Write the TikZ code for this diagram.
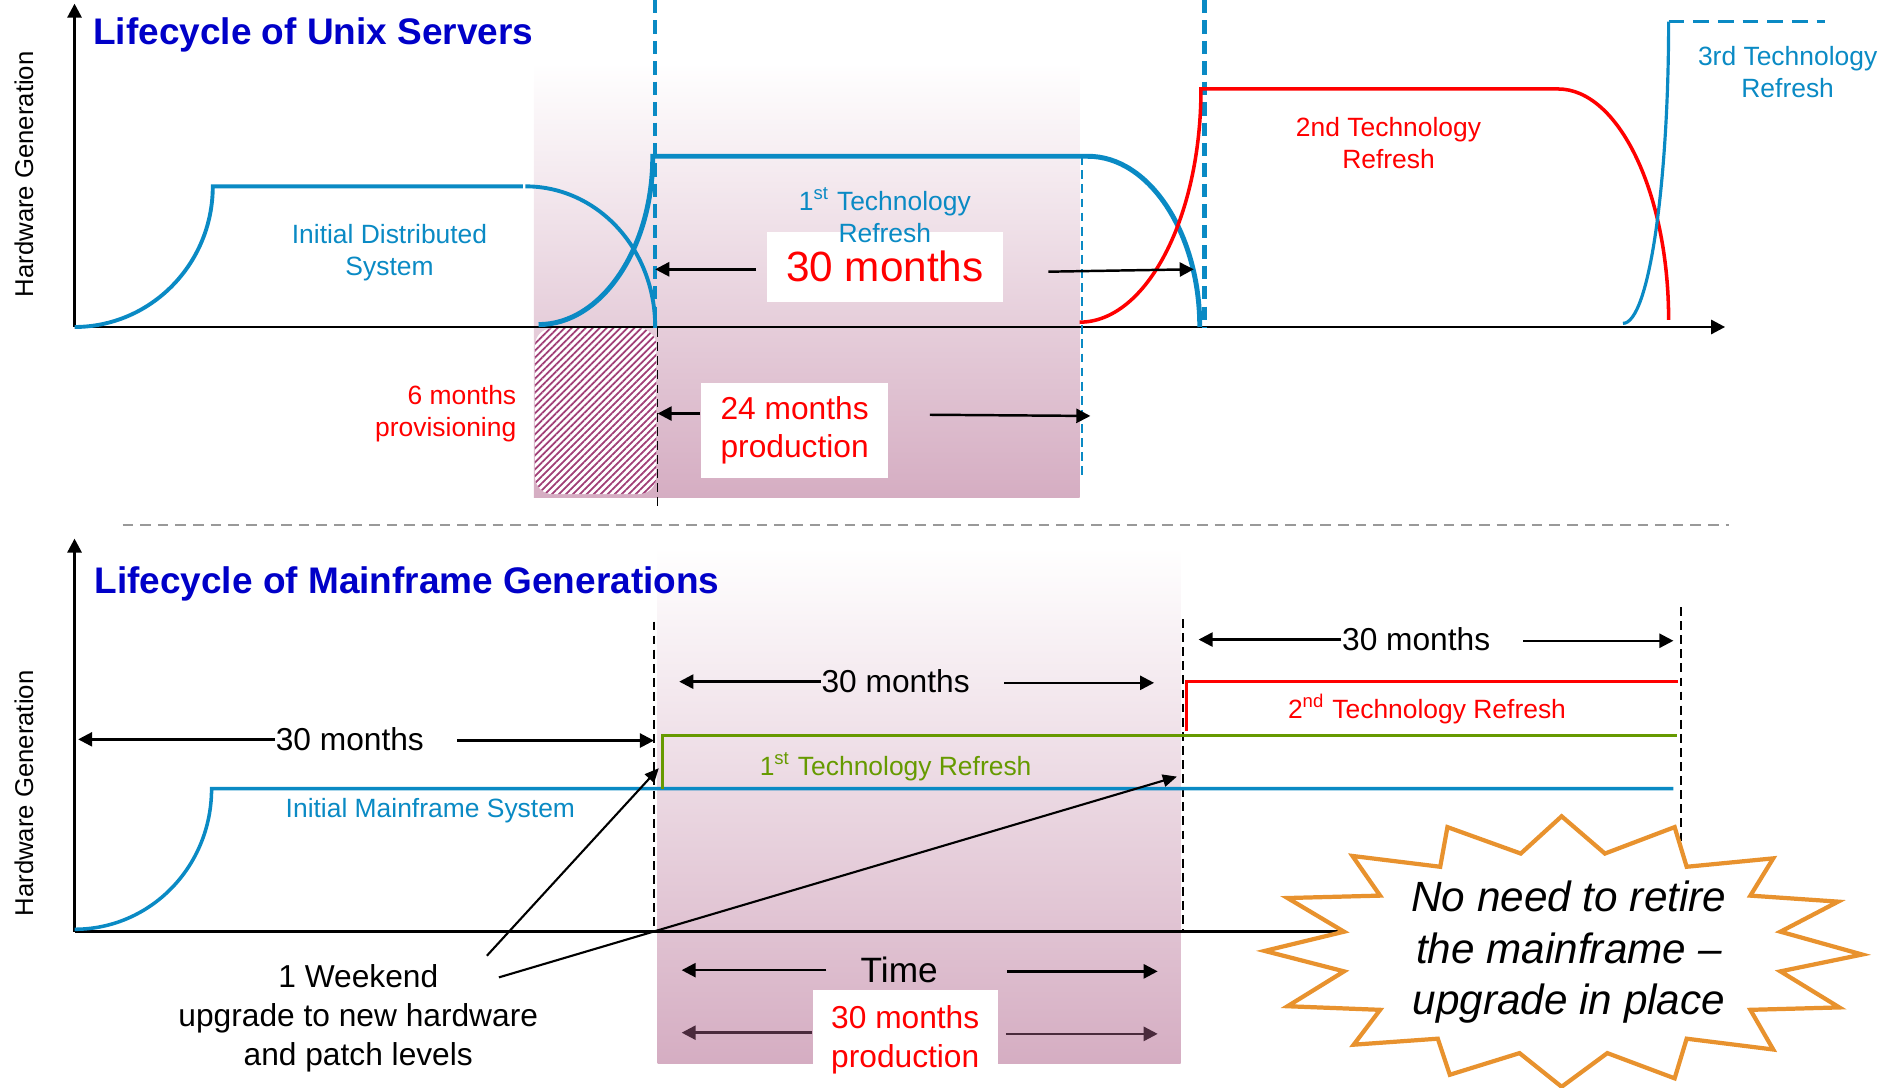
\documentclass[tikz,border=0pt]{standalone}
\usepackage{fontspec}
\setmainfont{Liberation Sans}
\usepackage{tikz}
\usetikzlibrary{arrows.meta,patterns.meta}
\definecolor{lineblue}{HTML}{0A8AC4}
\definecolor{titleblue}{HTML}{0000C8}
\definecolor{techred}{HTML}{FF0000}
\definecolor{techgreen}{HTML}{669A00}
\definecolor{mauve}{HTML}{D5ADC2}
\definecolor{hatch}{HTML}{A03E76}
\definecolor{burst}{HTML}{E8922E}
\definecolor{darkarrow}{HTML}{4A2A3C}
\tikzset{
  axisline/.style={draw=black, line width=0.8pt},
  axisarrow/.style={axisline, -{Triangle[length=4pt,width=4pt]}},
  bluecurve/.style={draw=lineblue, line width=1.1pt},
  redcurve/.style={draw=techred, line width=1.0pt},
  greenstep/.style={draw=techgreen, line width=1.0pt},
  bluedash/.style={draw=lineblue, line width=1.3pt, dash pattern=on 3.8pt off 2pt},
  thinblue/.style={draw=lineblue, line width=0.5pt, dash pattern=on 2.5pt off 1.5pt},
  cutline/.style={draw=black, line width=0.5pt, dash pattern=on 2.5pt off 1.5pt},
  sepline/.style={draw=black!40, line width=0.6pt, dash pattern=on 3pt off 2pt},
  dimarrow/.style={draw=black, line width=0.7pt, -{Triangle[length=4pt,width=4pt]}},
  darkdim/.style={dimarrow, draw=darkarrow, -{Triangle[length=4pt,width=4pt,fill=darkarrow]}},
  thinarrow/.style={draw=black, line width=0.6pt, -{Triangle[length=4pt,width=3.5pt]}},
  lab/.style={font=\fontsize{7.5}{9}\selectfont, align=center, inner sep=0pt},
  vlab/.style={font=\fontsize{7.3}{8}\selectfont, inner sep=0pt, rotate=90},
  titlelab/.style={font=\fontsize{10.5}{12}\selectfont\bfseries, text=titleblue, inner sep=0pt, anchor=west},
  dimlab/.style={font=\fontsize{9}{11}\selectfont, inner sep=0pt},
  whitebox/.style={fill=white, text=techred, align=center, inner sep=0pt},
  burstline/.style={draw=burst, line width=1.2pt, fill=white, line join=miter},
}

\begin{document}
\begin{tikzpicture}[x=0.012cm,y=-0.012cm]
  \useasboundingbox (0,0) rectangle (1568,905);

  % production windows
  \shade[top color=white, bottom color=mauve] (444,52) rectangle (898,414);
  \shade[top color=white, bottom color=mauve] (547,455) rectangle (982,885);
  \fill[white, rounded corners=5pt] (445,273) rectangle (546,411);
  \fill[pattern={Lines[angle=45,distance=1.4pt,line width=0.5pt]}, pattern color=hatch,
    rounded corners=5pt] (445,273) rectangle (546,411);

  % Unix servers
  \draw[axisarrow] (62,272) -- (62,3);
  \draw[axisarrow] (62,272) -- (1435,272);
  \node[vlab] (yup) at (20,145) {Hardware Generation};
  \node[titlelab] (tup) at (77,29) {Lifecycle of Unix Servers};

  \draw[bluedash] (545,0) -- (545,272);
  \draw[bluedash] (1002,0) -- (1002,272);
  \draw[thinblue] (900,130) -- (900,395);
  \draw[cutline] (547,273) -- (547,421);

  \draw[bluecurve] (62,272) .. controls (125,272) and (177,220) .. (177,155) -- (435,155);
  \draw[bluecurve] (437,155) .. controls (497,155) and (545,207) .. (545,272);
  \draw[bluecurve, line width=1.4pt] (448,270) .. controls (500,270) and (543,207) .. (543,130)
    -- (905,130) .. controls (956,130) and (998,194) .. (998,272);
  \draw[redcurve] (898,268) .. controls (954,268) and (999,180) .. (999,74)
    -- (1296,74) .. controls (1346,74) and (1388,160) .. (1388,266);
  \draw[bluecurve, line width=0.9pt] (1350,269) .. controls (1372,269) and (1388,150) .. (1388,18);
  \draw[bluecurve, line width=0.9pt, dash pattern=on 4.5pt off 2.5pt] (1388,18) -- (1518,18);

  \node[whitebox, font=\fontsize{12}{14}\selectfont, minimum width=2.36cm, minimum height=0.70cm]
    (cycle) at (736,222) {30 months};
  \coordinate (cycl) at (545,224);
  \coordinate (cycr) at (993,224);
  \draw[dimarrow] (cycle.west) ++(-8,2) -- (cycl);
  \draw[dimarrow] (cycle.east) ++(37,4) -- (cycr);

  \node[lab, text=lineblue] (initd) at (324,210) {Initial Distributed\\System};
  \node[lab, text=lineblue] (refa) at (736,179) {1\textsuperscript{st} Technology\\Refresh};
  \node[lab, text=techred] (refb) at (1155,119) {2nd Technology\\Refresh};
  \node[lab, text=lineblue] (refc) at (1487,60) {3rd Technology\\Refresh};
  \node[lab, text=techred, align=right, anchor=east] (prov) at (430,344) {6 months\\provisioning};

  \node[whitebox, font=\fontsize{9}{11}\selectfont, minimum width=1.87cm, minimum height=0.95cm]
    (prod) at (661,358) {24 months\\production};
  \coordinate (prodl) at (547,344);
  \coordinate (prodr) at (907,346);
  \draw[dimarrow] (prod.west) ++(0,-14) -- (prodl);
  \draw[dimarrow] (prod.east) ++(34,-13) -- (prodr);

  \draw[sepline] (102,437) -- (1438,437);

  % Mainframe generations
  \draw[axisarrow] (62,775) -- (62,448);
  \draw[axisline] (62,775) -- (1150,775);
  \node[vlab] (ylow) at (20,660) {Hardware Generation};
  \node[titlelab] (tlow) at (78,486) {Lifecycle of Mainframe Generations};

  \draw[cutline] (544,517) -- (544,775);
  \draw[cutline] (984,515) -- (984,775);
  \draw[cutline] (1398,505) -- (1398,700);

  \draw[bluecurve, line width=1.0pt] (62,773) .. controls (125,773) and (176,721) .. (176,656) -- (1392,656);
  \draw[greenstep] (551,656) -- (551,612) -- (1395,612);
  \draw[redcurve] (987,608) -- (987,567) -- (1396,567);

  \node[lab, text=lineblue] (initm) at (358,674) {Initial Mainframe System};
  \node[lab, text=techgreen] (refg) at (745,638) {1\textsuperscript{st} Technology Refresh};
  \node[lab, text=techred] (refr) at (1187,590) {2\textsuperscript{nd} Technology Refresh};

  \node[dimlab] (spana) at (291,615) {30 months};
  \coordinate (spanal) at (65,615);
  \coordinate (spanar) at (544,616);
  \draw[dimarrow] (spana.west) -- (spanal);
  \draw[dimarrow] (spana.east) ++(27,1) -- (spanar);

  \node[dimlab] (spanb) at (745,567) {30 months};
  \coordinate (spanbl) at (565,567);
  \coordinate (spanbr) at (960,568);
  \draw[dimarrow] (spanb.west) -- (spanbl);
  \draw[dimarrow] (spanb.east) ++(28,1) -- (spanbr);

  \node[dimlab] (spanc) at (1178,532) {30 months};
  \coordinate (spancl) at (997,532);
  \coordinate (spancr) at (1392,533);
  \draw[dimarrow] (spanc.west) -- (spancl);
  \draw[dimarrow] (spanc.east) ++(27,1) -- (spancr);

  \node[dimlab, font=\fontsize{10}{12}\selectfont] (time) at (748,807) {Time};
  \coordinate (timel) at (567,807);
  \coordinate (timer) at (963,808);
  \draw[dimarrow] (time.west) ++(-28,0) -- (timel);
  \draw[dimarrow] (time.east) ++(57,1) -- (timer);

  \node[whitebox, font=\fontsize{9}{11}\selectfont, minimum width=1.85cm, minimum height=1.0cm]
    (prodlow) at (753,865) {30 months\\production};
  \coordinate (prodlowl) at (567,859);
  \coordinate (prodlowr) at (963,860);
  \draw[darkdim] (prodlow.west) ++(0,-6) -- (prodlowl);
  \draw[darkdim] (prodlow.east) ++(6,-5) -- (prodlowr);

  \node[dimlab, align=center] (weekend) at (298,847) {1 Weekend\\upgrade to new hardware\\and patch levels};
  \coordinate (wka) at (548,639);
  \coordinate (wkb) at (979,646);
  \draw[thinarrow] (weekend.center) ++(107,-52) -- (wka);
  \draw[thinarrow] (weekend.center) ++(117,-34) -- (wkb);

  % starburst
  \draw[burstline] (1299,679) -- (1335,710) -- (1393,688) -- (1403,721) -- (1475,714)
    -- (1456,745) -- (1529,750) -- (1481,775) -- (1549,794) -- (1481,808) -- (1530,838)
    -- (1456,840) -- (1475,873) -- (1403,864) -- (1393,897) -- (1337,876) -- (1299,904)
    -- (1264,876) -- (1206,894) -- (1196,864) -- (1126,869) -- (1148,840) -- (1071,837)
    -- (1118,808) -- (1052,791) -- (1118,775) -- (1071,747) -- (1148,745) -- (1125,712)
    -- (1198,721) -- (1204,688) -- (1265,710) -- cycle;
  \node[font=\fontsize{12}{14.7}\selectfont\itshape, align=center, inner sep=0pt]
    (retire) at (1305,792) {No need to retire\\the mainframe --\\upgrade in place};
\end{tikzpicture}
\end{document}
